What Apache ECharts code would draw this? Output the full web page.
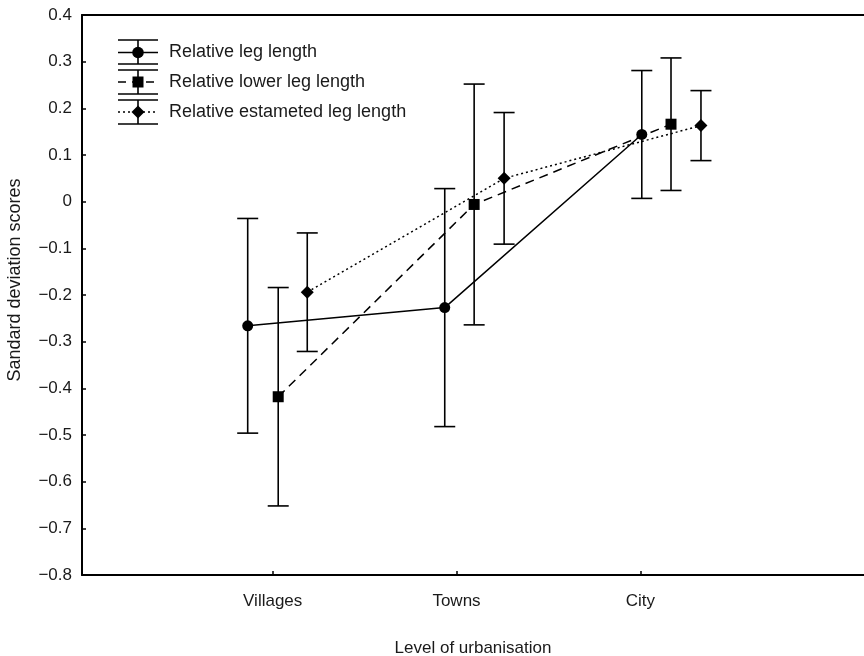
<!DOCTYPE html>
<html>
<head>
<meta charset="utf-8">
<script src="https://cdn.jsdelivr.net/npm/echarts@6/dist/echarts.min.js"></script>
<style>
html,body{margin:0;padding:0;background:#fff;}
#chart{width:864px;height:656px;}
</style>
</head>
<body>
<div id="chart"></div>
<script>
// ---- data ----
var categories = ['Villages', 'Towns', 'City'];
var categoryPos = [1, 2, 3];
var seriesNames = ['Relative leg length', 'Relative lower leg length', 'Relative estameted leg length'];
// x positions (in category units) of each series' marks
var xLeg = [0.864, 1.936, 3.008];
var xLower = [1.030, 2.096, 3.167];
var xEst = [1.188, 2.259, 3.330];
// means
var yLeg = [-0.266, -0.227, 0.144];
var yLower = [-0.418, -0.006, 0.166];
var yEst = [-0.194, 0.050, 0.163];
// error half-widths
var errLeg = [0.230, 0.255, 0.137];
var errLower = [0.234, 0.258, 0.142];
var errEst = [0.127, 0.141, 0.075];
// y tick labels
var yMin = -0.8, yMax = 0.4, yStep = 0.1;

var FONT = '"Liberation Sans", Arial, sans-serif';
var TXT = '#1a1a1a';

function pts(xs, ys) { return xs.map(function (x, i) { return [x, ys[i]]; }); }
function errData(xs, ys, es) { return xs.map(function (x, i) { return [x, ys[i] - es[i], ys[i] + es[i]]; }); }

function errorSeries(xs, ys, es) {
  return {
    type: 'custom',
    data: errData(xs, ys, es),
    z: 3,
    silent: true,
    renderItem: function (params, api) {
      var x = api.value(0);
      var lo = api.coord([x, api.value(1)]);
      var hi = api.coord([x, api.value(2)]);
      var hw = 10.5;
      var st = { stroke: '#000', lineWidth: 1.6 };
      return {
        type: 'group',
        children: [
          { type: 'line', shape: { x1: lo[0], y1: lo[1], x2: hi[0], y2: hi[1] }, style: st },
          { type: 'line', shape: { x1: lo[0] - hw, y1: lo[1], x2: lo[0] + hw, y2: lo[1] }, style: st },
          { type: 'line', shape: { x1: hi[0] - hw, y1: hi[1], x2: hi[0] + hw, y2: hi[1] }, style: st }
        ]
      };
    }
  };
}

function lineSeries(name, xs, ys, symbol, size, lineType) {
  return {
    name: name,
    type: 'line',
    data: pts(xs, ys),
    symbol: symbol,
    symbolSize: size,
    showAllSymbol: true,
    z: 4,
    lineStyle: { color: '#000', width: 1.5, type: lineType },
    itemStyle: { color: '#000', borderWidth: 0 },
    emphasis: { disabled: true },
    animation: false
  };
}

// legend drawn as graphic elements
function legendItem(cx, yTop, yMid, yBot, marker, lineDash, label) {
  var st = { stroke: '#000', lineWidth: 1.6, fill: null };
  var children = [
    { type: 'line', shape: { x1: cx - 20, y1: yTop, x2: cx + 20, y2: yTop }, style: st },
    { type: 'line', shape: { x1: cx - 20, y1: yBot, x2: cx + 20, y2: yBot }, style: st },
    { type: 'line', shape: { x1: cx, y1: yTop, x2: cx, y2: yBot }, style: st },
    { type: 'line', shape: { x1: cx - 20, y1: yMid, x2: cx + 20, y2: yMid },
      style: { stroke: '#000', lineWidth: 1.5, lineDash: lineDash } }
  ];
  if (marker === 'circle') {
    children.push({ type: 'circle', shape: { cx: cx, cy: yMid, r: 5.8 }, style: { fill: '#000' } });
  } else if (marker === 'rect') {
    children.push({ type: 'rect', shape: { x: cx - 5.5, y: yMid - 5.5, width: 11, height: 11 }, style: { fill: '#000' } });
  } else {
    children.push({ type: 'polygon', shape: { points: [[cx, yMid - 6.5], [cx + 6.5, yMid], [cx, yMid + 6.5], [cx - 6.5, yMid]] }, style: { fill: '#000' } });
  }
  children.push({ type: 'text', x: cx + 31, y: yMid, style: { text: label, font: '18px ' + FONT, fill: TXT, textVerticalAlign: 'middle', textAlign: 'left' } });
  return { type: 'group', children: children };
}

var chart = echarts.init(document.getElementById('chart'), null, { renderer: 'canvas' });

var xMin = -0.0375, xMax = 4.217;

var option = {
  backgroundColor: '#fff',
  animation: false,
  grid: { left: 82, right: 0, top: 15, bottom: 81, containLabel: false, outerBoundsMode: 'none' },
  xAxis: [{
    type: 'value',
    min: xMin, max: xMax,
    position: 'bottom',
    splitLine: { show: false },
    axisLine: { show: true, onZero: false, lineStyle: { color: '#000', width: 2 } },
    axisTick: { show: true, inside: true, length: 4, customValues: categoryPos, lineStyle: { color: '#000', width: 1.5 } },
    axisLabel: {
      show: true, customValues: categoryPos, margin: 18,
      color: TXT, fontFamily: FONT, fontSize: 17,
      formatter: function (v) { var i = categoryPos.indexOf(Math.round(v)); return i >= 0 ? categories[i] : ''; }
    },
    name: 'Level of urbanisation',
    nameLocation: 'middle',
    nameGap: 65,
    nameTextStyle: { color: TXT, fontFamily: FONT, fontSize: 17 }
  }, {
    type: 'value',
    min: xMin, max: xMax,
    position: 'top',
    splitLine: { show: false },
    axisLine: { show: true, onZero: false, lineStyle: { color: '#000', width: 2 } },
    axisTick: { show: false },
    axisLabel: { show: false }
  }],
  yAxis: {
    type: 'value',
    min: yMin, max: yMax, interval: yStep,
    splitLine: { show: false },
    axisLine: { show: true, onZero: false, lineStyle: { color: '#000', width: 2 } },
    axisTick: { show: true, inside: true, length: 4, lineStyle: { color: '#000', width: 1.5 } },
    axisLabel: {
      margin: 10, color: TXT, fontFamily: FONT, fontSize: 17,
      formatter: function (v) { var s = String(Number(v.toFixed(1))); return s.replace('-', '\u2212'); }
    }
  },
  graphic: [
    { type: 'text', x: 15, y: 280, rotation: Math.PI / 2,
      style: { text: 'Sandard deviation scores', font: '18px ' + FONT, fill: TXT, textAlign: 'center', textVerticalAlign: 'middle' } },
    legendItem(138, 40, 52.5, 64, 'circle', null, seriesNames[0]),
    legendItem(138, 70, 82, 94, 'rect', [8, 6], seriesNames[1]),
    legendItem(138, 100, 112, 124, 'diamond', [2, 3], seriesNames[2])
  ],
  series: [
    errorSeries(xLeg, yLeg, errLeg),
    errorSeries(xLower, yLower, errLower),
    errorSeries(xEst, yEst, errEst),
    lineSeries(seriesNames[0], xLeg, yLeg, 'circle', 11, 'solid'),
    lineSeries(seriesNames[1], xLower, yLower, 'rect', 11, [9, 6]),
    lineSeries(seriesNames[2], xEst, yEst, 'diamond', 13, [2, 3])
  ]
};
chart.setOption(option);
</script>
</body>
</html>
